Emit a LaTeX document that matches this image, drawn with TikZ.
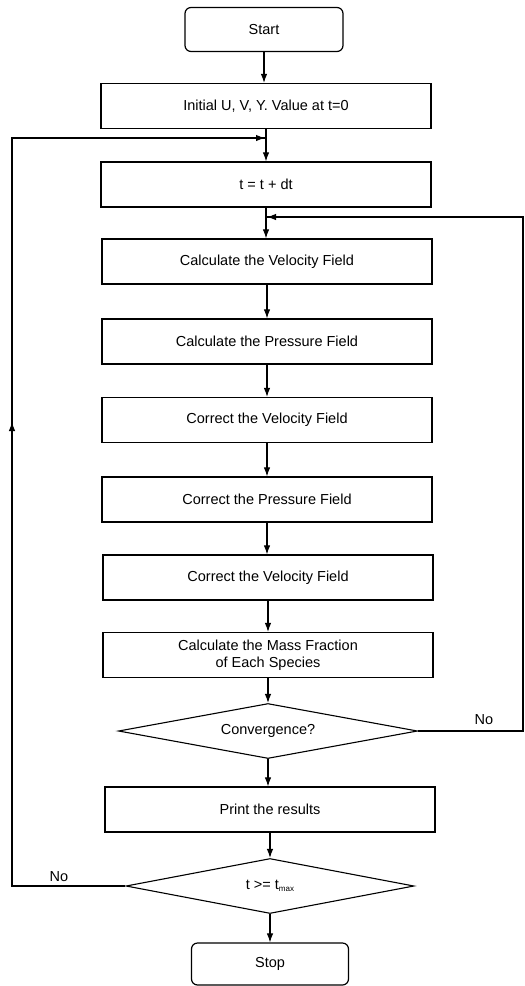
\documentclass[tikz,border=0pt]{standalone}
\usepackage{fontspec}
\setmainfont{Liberation Sans}
\usetikzlibrary{shapes.geometric,arrows.meta}
\begin{document}
\begin{tikzpicture}[x=1pt,y=1pt,
  every node/.style={font=\fontsize{14.5}{17}\selectfont},
  procbox/.style={draw,line width=1.2pt,minimum width=330pt,minimum height=45pt,inner sep=0pt,align=center},
  termbox/.style={draw,line width=1.2pt,rounded corners=6pt,minimum width=158pt,minimum height=44pt,inner sep=0pt},
  decbox/.style={draw,line width=1.1pt,diamond,aspect=5.4,inner sep=0pt,minimum height=55pt},
  flow/.style={line width=1.1pt,-{Latex[length=9pt,width=6.5pt]}},
  plain/.style={line width=1.1pt},
  lbl/.style={inner sep=0pt}]
\useasboundingbox (0,0) rectangle (525,-986);
\node[termbox] (start) at (264,-29.5) {Start};
\node[procbox] (init) at (266,-106) {Initial U, V, Y. Value at t=0};
\node[procbox] (tdt) at (266,-184.5) {t = t + dt};
\node[procbox] (calcv) at (267,-261.5) {Calculate the Velocity Field};
\node[procbox] (calcp) at (267,-341.5) {Calculate the Pressure Field};
\node[procbox] (corrv) at (267,-420) {Correct the Velocity Field};
\node[procbox] (corrp) at (267,-499.5) {Correct the Pressure Field};
\node[procbox] (corrv2) at (268,-577.5) {Correct the Velocity Field};
\node[procbox] (mass) at (268,-655) {Calculate the Mass Fraction\\of Each Species};
\node[decbox,minimum width=299pt] (conv) at (268,-731) {Convergence?};
\node[procbox] (print) at (270,-809.5) {Print the results};
\node[decbox,minimum width=288pt] (tmax) at (270,-886) {t >= t\raisebox{-2pt}{\fontsize{8}{8}\selectfont max}};
\node[termbox,minimum width=157pt,minimum height=42pt] (stop) at (270,-964) {Stop};
\node[lbl] (no1) at (484,-720) {No};
\node[lbl] (no2) at (59,-877) {No};
\coordinate (j1) at (266,-138);
\coordinate (j2) at (266,-217);
\coordinate (lt) at (12,-138);
\coordinate (lb) at (12,-886);
\coordinate (la) at (12,-422);
\coordinate (rt) at (523,-217);
\coordinate (rb) at (523,-731);
\draw[flow] (start.south) -- (start.south |- init.north);
\draw[flow] (init.south) -- (init.south |- tdt.north);
\draw[flow] (tdt.south) -- (tdt.south |- calcv.north);
\draw[flow] (calcv.south) -- (calcv.south |- calcp.north);
\draw[flow] (calcp.south) -- (calcp.south |- corrv.north);
\draw[flow] (corrv.south) -- (corrv.south |- corrp.north);
\draw[flow] (corrp.south) -- (corrp.south |- corrv2.north);
\draw[flow] (corrv2.south) -- (corrv2.south |- mass.north);
\draw[flow] (mass.south) -- (mass.south |- conv.north);
\draw[flow] (conv.south) -- (conv.south |- print.north);
\draw[flow] (print.south) -- (print.south |- tmax.north);
\draw[flow] (tmax.south) -- (tmax.south |- stop.north);
\draw[plain] (tmax.west) -- (lb) -- (lt) -- (j1);
\draw[flow] (lb) -- (la);
\draw[flow] (lt) -- ([xshift=-1pt]j1);
\draw[plain] (conv.east) -- (rb) -- (rt) -- (j2);
\draw[flow] (rt) -- ([xshift=1pt]j2);
\end{tikzpicture}
\end{document}
